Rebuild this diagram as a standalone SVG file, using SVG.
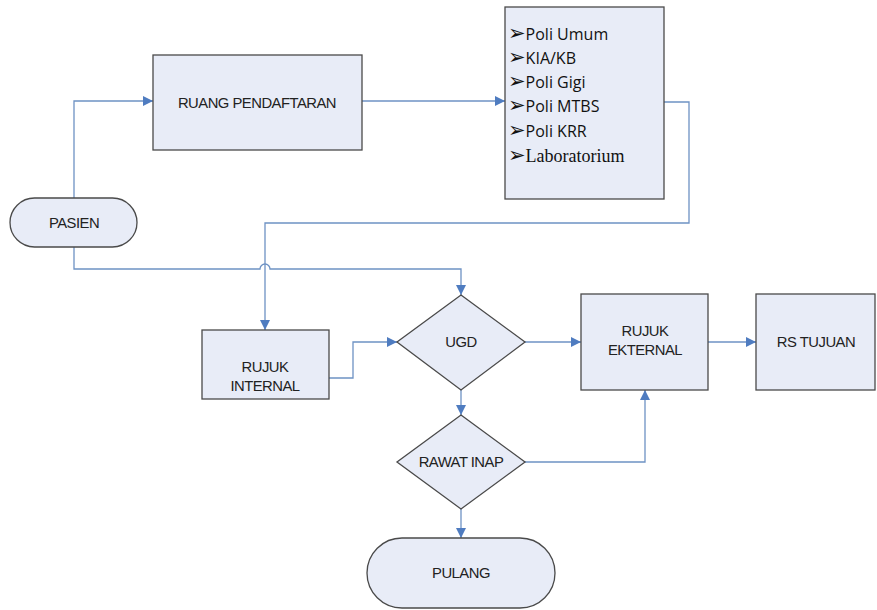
<svg xmlns="http://www.w3.org/2000/svg" width="877" height="610" viewBox="0 0 877 610">
<defs>
<style>
.n{fill:#E8ECF7;stroke:#4A4A4A;stroke-width:1.3}
.c{fill:none;stroke:#6E92C4;stroke-width:1.3}
.t{font-family:"Liberation Sans",Arial,sans-serif;font-size:14.8px;fill:#222;text-anchor:middle;letter-spacing:-0.5px}
.l{font-family:"Open Sans","Noto Sans",sans-serif;font-size:16px;fill:#111}
.s{font-family:"Liberation Serif","Times New Roman",serif;font-size:18px;fill:#111}
.b{font-family:"DejaVu Sans",sans-serif;font-size:21px;fill:#111}
</style>
<marker id="a" viewBox="0 0 10 10" refX="10" refY="5" markerWidth="10" markerHeight="10" markerUnits="userSpaceOnUse" orient="auto">
<path d="M0,0 L10,5 L0,10 z" fill="#4F7CC0"/>
</marker>
</defs>
<rect width="877" height="610" fill="#fff"/>
<g id="connectors">
<path class="c" d="M74,198 V101 H153" marker-end="url(#a)"/>
<path class="c" d="M362,101 H505" marker-end="url(#a)"/>
<path class="c" d="M664,102 H689 V223 H265 V330" marker-end="url(#a)"/>
<path class="c" d="M74,247 V269 H260 A5,5 0 0 1 270,269 H461 V295" marker-end="url(#a)"/>
<path class="c" d="M329,378 H353 V342 H397" marker-end="url(#a)"/>
<path class="c" d="M525,342 H581" marker-end="url(#a)"/>
<path class="c" d="M708,342 H756" marker-end="url(#a)"/>
<path class="c" d="M461,390 V415" marker-end="url(#a)"/>
<path class="c" d="M525,462 H645 V390" marker-end="url(#a)"/>
<path class="c" d="M461,509 V538" marker-end="url(#a)"/>
</g>
<g id="pasien">
<rect class="n" x="10" y="198" width="127" height="49" rx="24.5"/>
<text class="t" x="74" y="228">PASIEN</text>
</g>
<g id="ruang-pendaftaran">
<rect class="n" x="153" y="55" width="209" height="95"/>
<text class="t" x="257" y="108">RUANG PENDAFTARAN</text>
</g>
<g id="poli">
<rect class="n" x="505" y="7" width="159" height="192"/>
<text class="l" x="508" y="40"><tspan class="b">➢</tspan>Poli Umum</text>
<text class="l" x="508" y="64"><tspan class="b">➢</tspan>KIA/KB</text>
<text class="l" x="508" y="88"><tspan class="b">➢</tspan>Poli Gigi</text>
<text class="l" x="508" y="112"><tspan class="b">➢</tspan>Poli MTBS</text>
<text class="l" x="508" y="137"><tspan class="b">➢</tspan>Poli KRR</text>
<text class="s" x="508" y="162"><tspan class="b">➢</tspan>Laboratorium</text>
</g>
<g id="rujuk-internal">
<rect class="n" x="202" y="330" width="127" height="69"/>
<text class="t" x="265" y="372">RUJUK</text>
<text class="t" x="265" y="391">INTERNAL</text>
</g>
<g id="ugd">
<polygon class="n" points="461,295 525,342 461,390 397,342"/>
<text class="t" x="461" y="347">UGD</text>
</g>
<g id="rawat-inap">
<polygon class="n" points="461,415 525,462 461,509 397,462"/>
<text class="t" x="461" y="467">RAWAT INAP</text>
</g>
<g id="pulang">
<rect class="n" x="367" y="538" width="188" height="70" rx="35"/>
<text class="t" x="461" y="578">PULANG</text>
</g>
<g id="rujuk-eksternal">
<rect class="n" x="581" y="294" width="127" height="96"/>
<text class="t" x="645" y="336">RUJUK</text>
<text class="t" x="645" y="355">EKTERNAL</text>
</g>
<g id="rs-tujuan">
<rect class="n" x="756" y="294" width="119" height="96"/>
<text class="t" x="816" y="347">RS TUJUAN</text>
</g>
</svg>
